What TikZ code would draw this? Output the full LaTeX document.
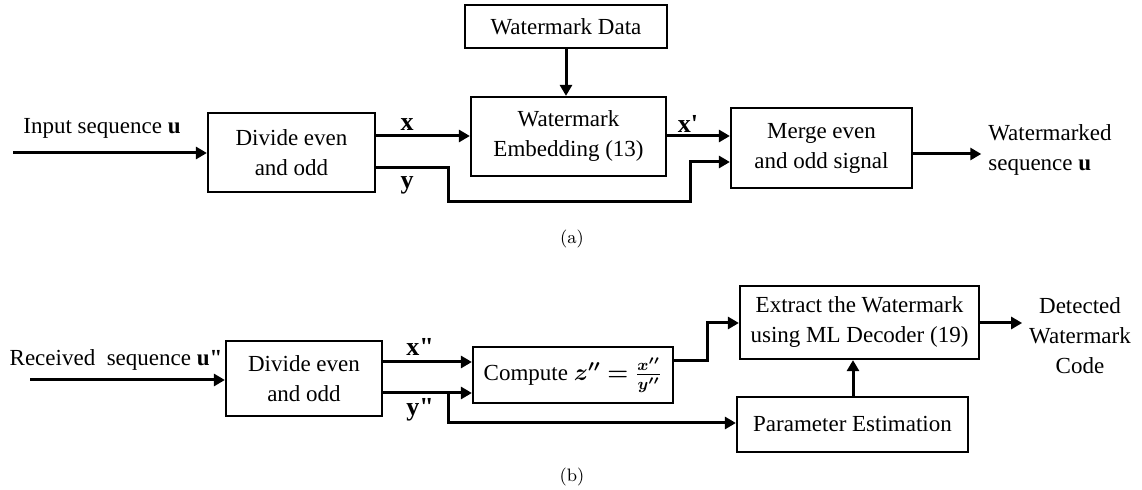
\documentclass[tikz,border=0pt]{standalone}
\usepackage{fontspec}
\usepackage{amsmath,bm}
\usetikzlibrary{arrows.meta}
\newfontfamily\blockfont[Ligatures=TeXOff]{Liberation Serif}

\tikzset{
  block/.style={draw, line width=1.1pt, align=center, font=\blockfont\fontsize{11.5}{15}\selectfont},
  lbl/.style={align=center, font=\blockfont\fontsize{11.5}{15}\selectfont},
  sig/.style={font=\blockfont\bfseries\fontsize{13}{15}\selectfont, inner sep=0pt},
  arr/.style={line width=1.5pt, -{Triangle[length=5.5pt,width=6pt]}},
  wire/.style={line width=1.5pt}
}

\begin{document}
\begin{tikzpicture}[x=0.5pt, y=-0.5pt]

        \useasboundingbox (0,0) rectangle (1142,490);

        % (a) embedding
        \node[block, minimum width=101pt, minimum height=21.5pt] (data)  at (566, 26.5) {Watermark Data};
        \node[block, minimum width=97.5pt, minimum height=39.5pt] (embed) at (568.5,136.5) {Watermark\\Embedding (13)};
        \node[block, minimum width=83.5pt, minimum height=39.5pt] (divA)  at (291.5,152.5) {Divide even\\and odd};
        \node[block, minimum width=90.5pt, minimum height=40pt]   (merge) at (821.5,148)   {Merge even\\and odd signal};

        \coordinate (inA) at (13,153);
        \node[lbl] (inAtxt) at (102,128) {Input sequence \textbf{u}};
        \node[lbl, align=left] (outAtxt) at (1050,150) {Watermarked\\sequence \textbf{u}};

        \draw[arr] (inA) -- (divA.west |- inA);
        \draw[arr] (data.south) -- (embed.north -| data.south);
        \draw[arr] (divA.east |- 0,136) -- (embed.west |- 0,136);
        \draw[arr] (embed.east |- 0,136) -- (merge.west |- 0,136);
        \draw[arr] (divA.east |- 0,168) -- (448,168) -- (448,202) -- (690,202) -- (690,162) -- (merge.west |- 0,162);
        \draw[arr] (merge.east |- 0,154) -- (outAtxt.west |- 0,154);

        \node[sig] (xA)  at (407,125) {x};
        \node[sig] (yA)  at (407,185) {y};
        \node[sig] (xpA) at (688,124) {x\char"27};

        \node (capA) at (572,239) {\small (a)};

        % (b) detection
        \node[block, minimum width=78pt, minimum height=37.5pt]  (divB)  at (304,378.5)   {Divide even\\and odd};
        \node[block, minimum width=100pt, minimum height=28pt]   (comp)  at (573,375)     {Compute $\bm{z''=\frac{x''}{y''}}$};
        \node[block, minimum width=119.5pt, minimum height=36.5pt] (extr) at (859.5,322.5) {Extract the Watermark\\using ML Decoder (19)};
        \node[block, minimum width=115.5pt, minimum height=27.5pt] (param) at (852.5,424.5) {Parameter Estimation};

        \coordinate (inB) at (30,380);
        \node[lbl] (inBtxt) at (116,360) {Received\ \ sequence \textbf{u"}};
        \node[lbl] (outBtxt) at (1080,336) {Detected\\Watermark\\Code};

        \draw[arr] (inB) -- (divB.west |- inB);
        \draw[arr] (divB.east |- 0,362) -- (comp.west |- 0,362);
        \draw[arr] (divB.east |- 0,393) -- (comp.west |- 0,393);
        \draw[arr] (448,393) -- (448,423) -- (param.west |- 0,423);
        \draw[arr] (comp.east |- 0,361) -- (707,361) -- (707,323) -- (extr.west |- 0,323);
        \draw[arr] (param.north -| 853,0) -- (extr.south -| 853,0);
        \draw[arr] (extr.east |- 0,323) -- (outBtxt.west |- 0,323);

        \node[sig] (xB) at (420,347) {x"};
        \node[sig] (yB) at (420,410) {y"};

        \node (capB) at (572,477) {\small (b)};

    \end{tikzpicture}
\end{document}
